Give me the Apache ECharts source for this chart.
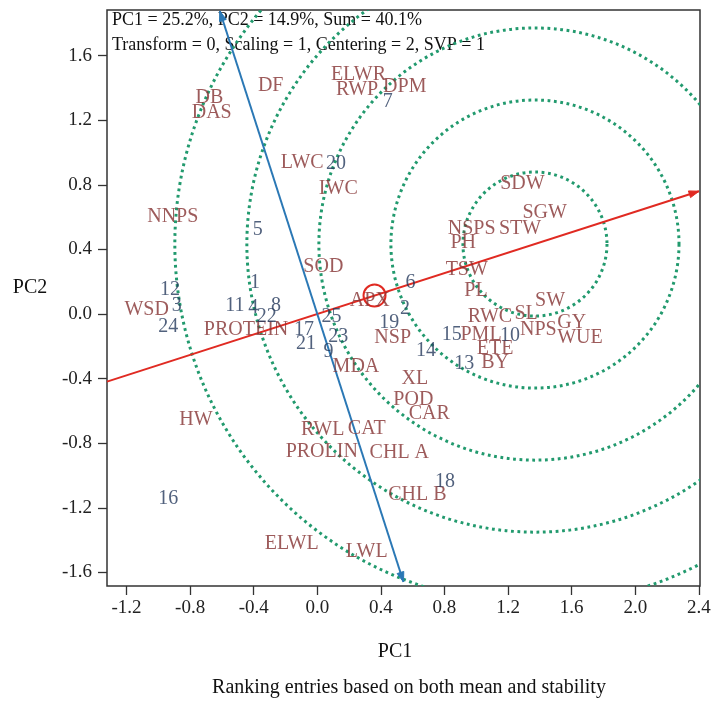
<!DOCTYPE html>
<html><head><meta charset="utf-8">
<script src="https://cdn.jsdelivr.net/npm/echarts@6/dist/echarts.min.js"></script>
<style>html,body{margin:0;padding:0;background:#fff}#c{width:713px;height:702px}</style>
</head><body><div id="c"></div>
<script>
const xTicks = [-1.2, -0.8, -0.4, 0.0, 0.4, 0.8, 1.2, 1.6, 2.0, 2.4];
const yTicks = [-1.6, -1.2, -0.8, -0.4, 0.0, 0.4, 0.8, 1.2, 1.6];
const xRange = [-1.3226, 2.407];
const yRange = [-1.684, 1.882];

const traitNames = ['DF','DB','DAS','ELWR','RWP','DPM','LWC','IWC','NNPS','SDW','SGW','NSPS','STW','PH','TSW','PL','SOD','APX','WSD','PROTEIN','SW','RWC','SL','GY','NPS','WUE','PML','ETE','BY','NSP','MDA','XL','POD','CAR','HW','RWL','CAT','PROLIN','CHL A','CHL B','ELWL','LWL'];
const traitPC1 = [-0.293,-0.679,-0.664,0.259,0.25,0.55,-0.095,0.132,-0.909,1.29,1.43,0.971,1.275,0.918,0.94,0.998,0.038,0.33,-1.073,-0.448,1.464,1.086,1.313,1.6,1.39,1.652,1.03,1.118,1.118,0.474,0.243,0.614,0.604,0.704,-0.763,0.034,0.311,0.028,0.516,0.629,-0.161,0.311];
const traitPC2 = [1.412,1.336,1.246,1.48,1.387,1.404,0.939,0.778,0.602,0.805,0.627,0.53,0.53,0.441,0.272,0.142,0.293,0.08,0.029,-0.095,0.082,-0.02,0.004,-0.054,-0.099,-0.144,-0.13,-0.213,-0.301,-0.144,-0.326,-0.404,-0.528,-0.615,-0.652,-0.714,-0.708,-0.853,-0.859,-1.121,-1.42,-1.472];

const genoNames = ['1','2','3','4','5','6','7','8','9','10','11','12','13','14','15','16','17','18','19','20','21','22','23','24','25'];
const genoPC1 = [-0.392,0.552,-0.884,-0.402,-0.375,0.587,0.443,-0.26,0.07,1.212,-0.518,-0.926,0.925,0.684,0.845,-0.937,-0.084,0.803,0.453,0.118,-0.071,-0.318,0.132,-0.937,0.09];
const genoPC2 = [0.194,0.035,0.05,0.041,0.524,0.194,1.315,0.05,-0.233,-0.136,0.05,0.149,-0.305,-0.227,-0.13,-1.141,-0.095,-1.038,-0.054,0.933,-0.186,-0.02,-0.14,-0.079,-0.02];

const avgEnv = [0.36, 0.114];      // average environment (AEC) point
const idealPoint = [1.369, 0.433]; // centre of concentric circles
const ringStep = 0.453;
const rings = [1, 2, 3, 4, 5];

const FONT = 'Liberation Serif';
const TRAIT_COLOR = '#843232';
const GENO_COLOR = '#253a5c';
const RING_COLOR = '#229a6e';

const chart = echarts.init(document.getElementById('c'), null, {renderer: 'canvas'});

function arrowHead(tip, ux, uy, len, half, color) {
  const bx = tip[0] - ux * len, by = tip[1] - uy * len;
  return {
    type: 'polygon',
    shape: {points: [[tip[0], tip[1]], [bx - uy * half, by + ux * half], [bx + uy * half, by - ux * half]]},
    style: {fill: color, stroke: color, lineWidth: 1}
  };
}

const option = {
  animation: false,
  backgroundColor: '#fff',
  grid: {left: 107, right: 13, top: 10, bottom: 116, show: true, borderColor: '#333', borderWidth: 1.5, containLabel: false, outerBoundsMode: 'none'},
  xAxis: {
    type: 'value', min: xRange[0], max: xRange[1],
    splitLine: {show: false},
    axisLine: {show: false, onZero: false},
    axisTick: {show: true, inside: false, length: 9, customValues: xTicks, lineStyle: {color: '#333', width: 1.3}},
    axisLabel: {customValues: xTicks, formatter: v => v.toFixed(1), fontFamily: FONT, fontSize: 19, color: '#222', margin: 13}
  },
  yAxis: {
    type: 'value', min: yRange[0], max: yRange[1],
    splitLine: {show: false},
    axisLine: {show: false, onZero: false},
    axisTick: {show: true, inside: false, length: 9, customValues: yTicks, lineStyle: {color: '#333', width: 1.3}},
    axisLabel: {customValues: yTicks, formatter: v => v.toFixed(1), fontFamily: FONT, fontSize: 19, color: '#222', margin: 15}
  },
  graphic: [
    {type: 'text', left: 112, top: 11, style: {text: 'PC1 = 25.2%, PC2 = 14.9%, Sum = 40.1%', font: '18px "Liberation Serif"', fill: '#111'}},
    {type: 'text', left: 112, top: 36, style: {text: 'Transform = 0, Scaling = 1, Centering = 2, SVP = 1', font: '18px "Liberation Serif"', fill: '#111'}},
    {type: 'text', x: 30, y: 288, style: {text: 'PC2', font: '20px "Liberation Serif"', fill: '#111', align: 'center', verticalAlign: 'middle'}},
    {type: 'text', x: 395, y: 652, style: {text: 'PC1', font: '20px "Liberation Serif"', fill: '#111', align: 'center', verticalAlign: 'middle'}},
    {type: 'text', x: 409, y: 688, style: {text: 'Ranking entries based on both mean and stability', font: '20px "Liberation Serif"', fill: '#111', align: 'center', verticalAlign: 'middle'}}
  ],
  series: [
    {
      type: 'custom', z: 1, silent: true,
      data: rings.map(k => [idealPoint[0], idealPoint[1], k]),
      renderItem: function (params, api) {
        const cs = params.coordSys;
        const c = api.coord([api.value(0), api.value(1)]);
        const r = api.size([api.value(2) * ringStep, 0])[0];
        return {
          type: 'group',
          clipPath: {type: 'rect', shape: {x: cs.x, y: cs.y, width: cs.width, height: cs.height}},
          children: [{
            type: 'circle', shape: {cx: c[0], cy: c[1], r: r},
            style: {fill: 'none', stroke: RING_COLOR, lineWidth: 3, lineDash: [2.8, 3.6]}
          }]
        };
      }
    },
    {
      type: 'custom', z: 2, silent: true,
      data: [avgEnv],
      renderItem: function (params, api) {
        const cs = params.coordSys;
        const o = api.coord([0, 0]);
        const a = api.coord([api.value(0), api.value(1)]);
        let dx = a[0] - o[0], dy = a[1] - o[1];
        const L = Math.hypot(dx, dy); dx /= L; dy /= L;
        const left = cs.x;
        const tL = (left - o[0]) / dx;
        const pL = [left, o[1] + tL * dy];
        const right = cs.x + cs.width - 1;
        const tR = (right - o[0]) / dx;
        const pR = [right, o[1] + tR * dy];
        const px = dy, py = -dx;
        const tTop = (o[1] - (cs.y + 1)) / dx;
        const pTop = [o[0] + px * tTop, o[1] + py * tTop];
        const bottomY = cs.y + cs.height - 4;
        const tBot = (bottomY - o[1]) / dx;
        const pBot = [o[0] - px * tBot, o[1] - py * tBot];
        const RED = '#e02a22', BLUE = '#2b78b5';
        return {
          type: 'group',
          children: [
            {type: 'line', shape: {x1: pL[0], y1: pL[1], x2: pR[0], y2: pR[1]}, style: {stroke: RED, lineWidth: 2}},
            arrowHead(pR, dx, dy, 10, 3.5, RED),
            {type: 'line', shape: {x1: pTop[0], y1: pTop[1], x2: pBot[0], y2: pBot[1]}, style: {stroke: BLUE, lineWidth: 2}},
            arrowHead(pTop, px, py, 10, 3.5, BLUE),
            arrowHead(pBot, -px, -py, 10, 3.5, BLUE),
            {type: 'circle', shape: {cx: a[0], cy: a[1], r: 11}, style: {fill: 'none', stroke: RED, lineWidth: 2}}
          ]
        };
      }
    },
    {
      type: 'scatter', z: 3, symbolSize: 0, silent: true,
      data: traitNames.map((n, i) => ({name: n, value: [traitPC1[i], traitPC2[i]]})),
      label: {show: true, position: 'inside', formatter: p => p.name, fontFamily: FONT, fontSize: 20, color: TRAIT_COLOR}
    },
    {
      type: 'scatter', z: 4, symbolSize: 0, silent: true,
      data: genoNames.map((n, i) => ({name: n, value: [genoPC1[i], genoPC2[i]]})),
      label: {show: true, position: 'inside', formatter: p => p.name, fontFamily: FONT, fontSize: 20, color: GENO_COLOR}
    }
  ]
};
chart.setOption(option);
</script>
</body></html>
